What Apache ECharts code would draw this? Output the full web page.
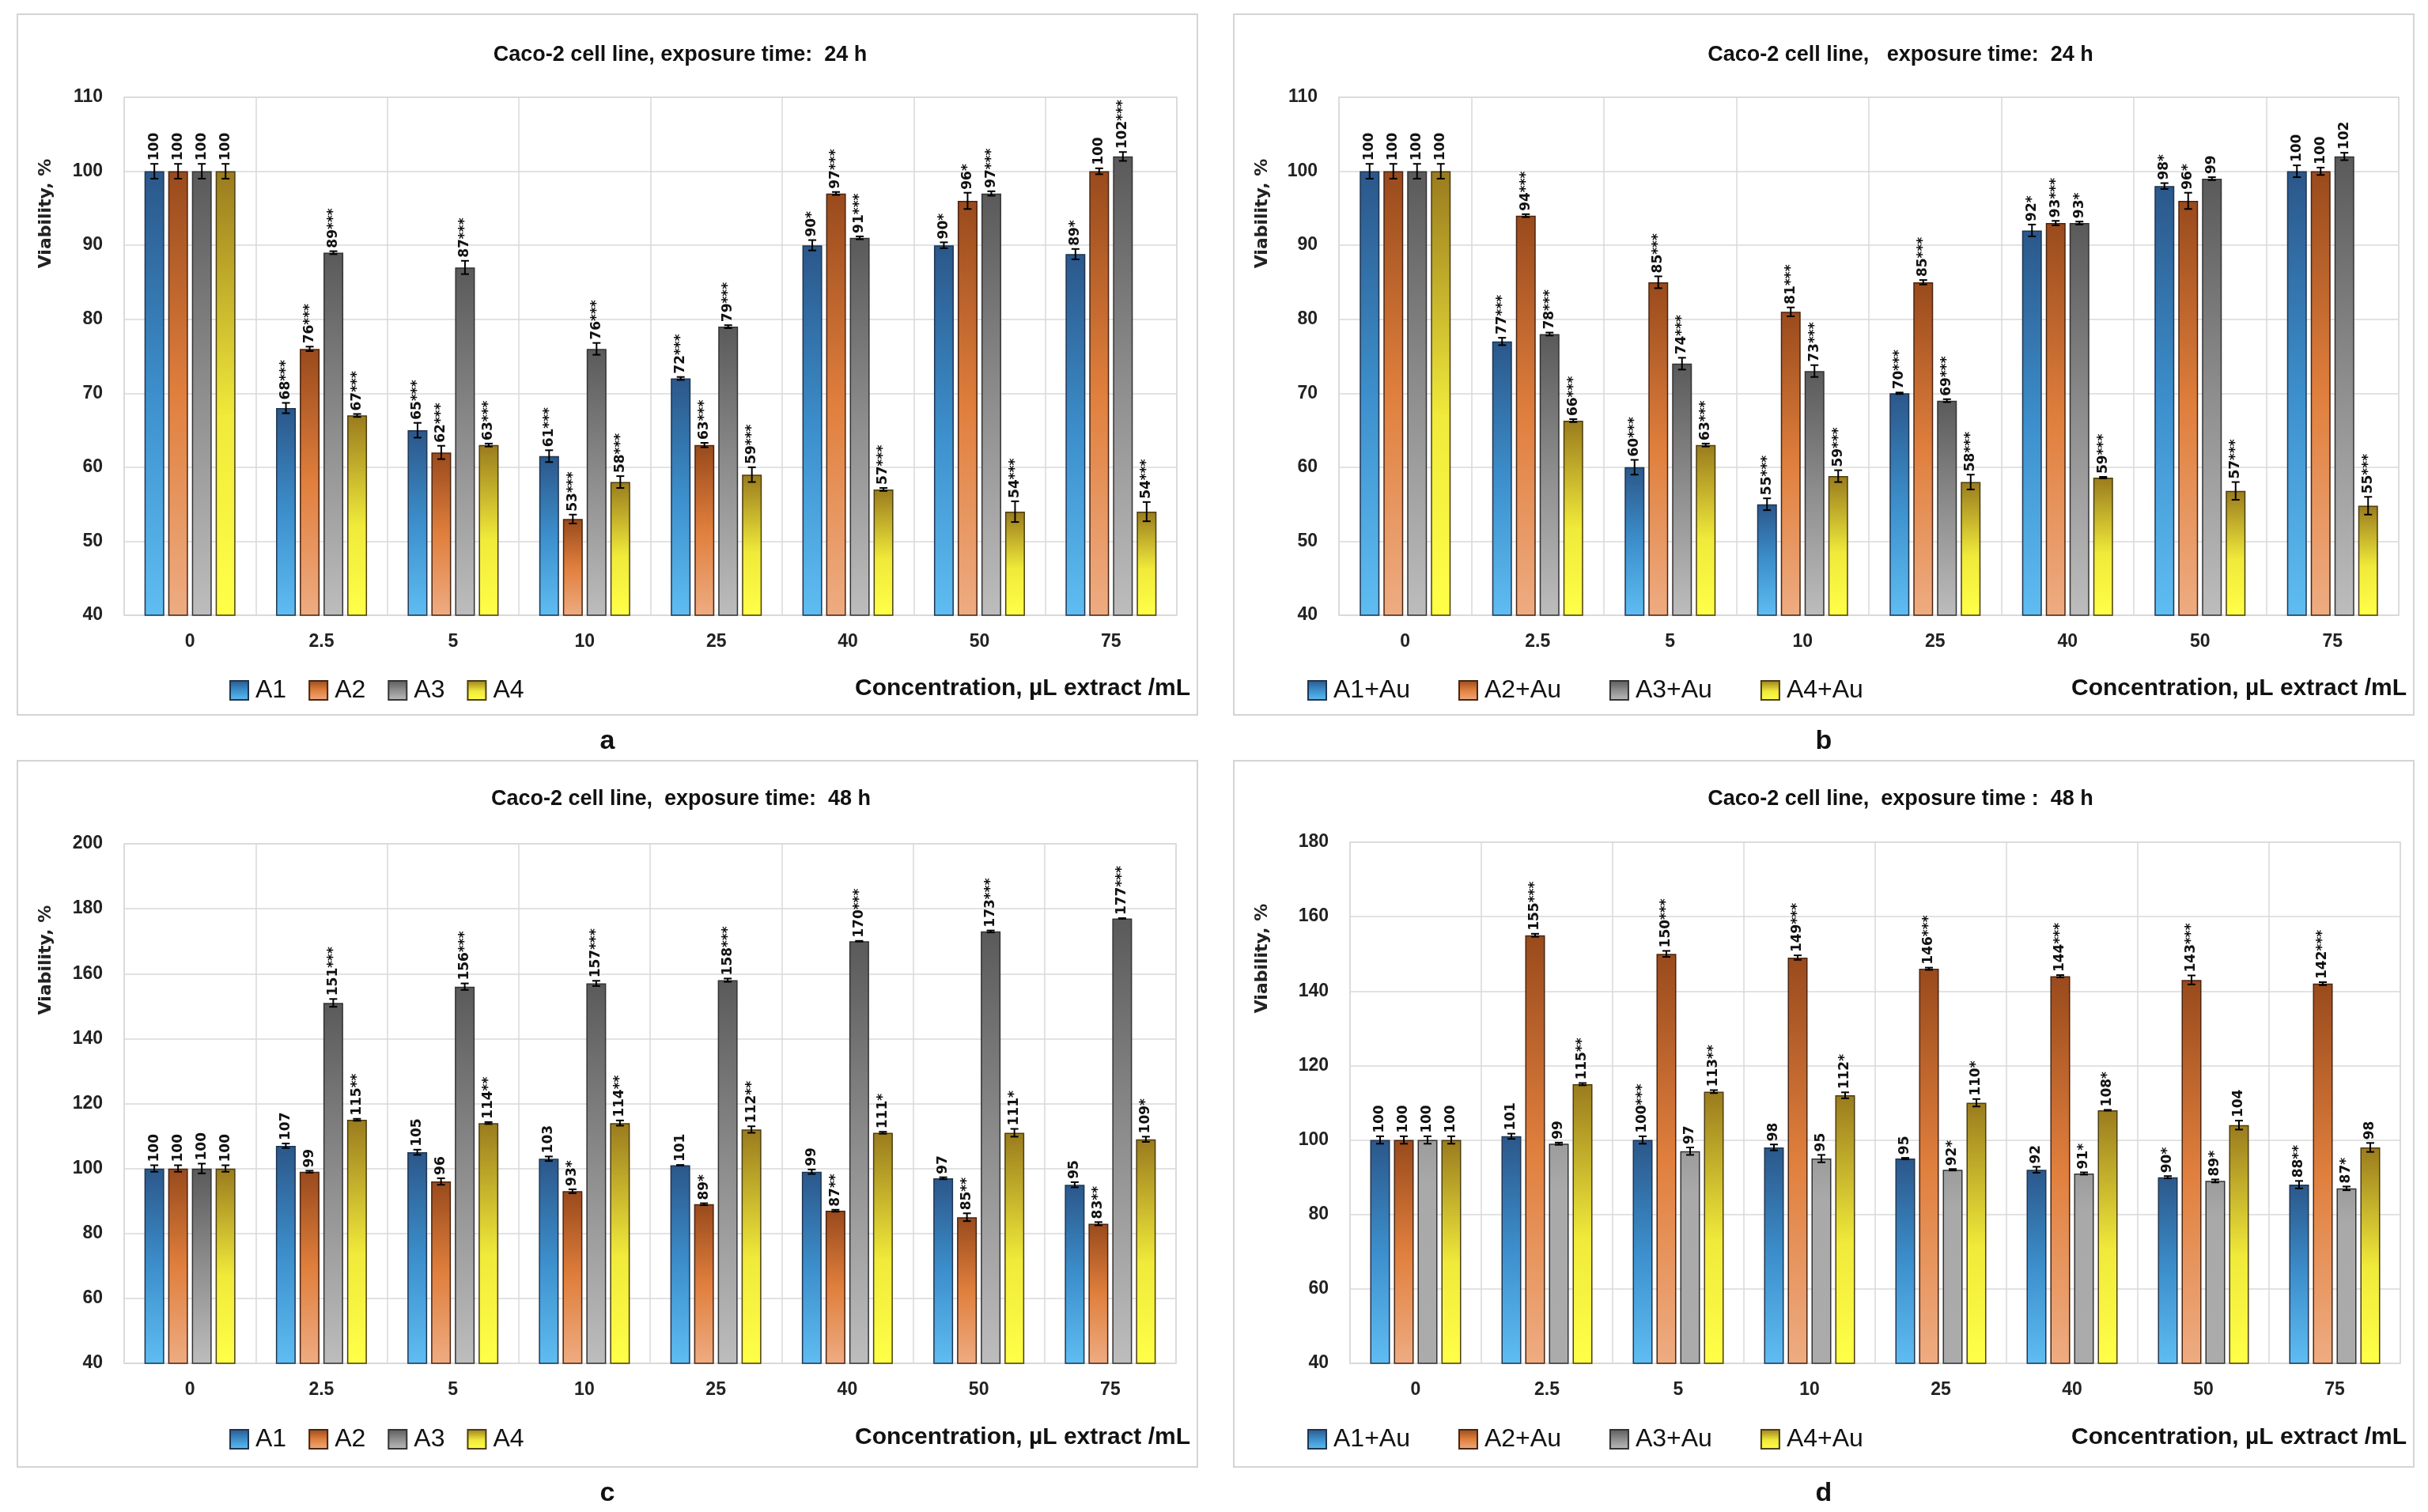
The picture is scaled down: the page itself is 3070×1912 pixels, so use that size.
<!DOCTYPE html>
<html>
<head>
<meta charset="utf-8">
<script src="https://cdn.jsdelivr.net/npm/echarts@6/dist/echarts.min.js"></script>
<style>
html,body{margin:0;padding:0;background:#fff;}
#chart{width:3070px;height:1912px;}
</style>
</head>
<body>
<div id="chart"></div>
<script>
var concentrations = ['0', '2.5', '5', '10', '25', '40', '50', '75'];
var namesPlain = ['A1', 'A2', 'A3', 'A4'];
var namesAu = ['A1+Au', 'A2+Au', 'A3+Au', 'A4+Au'];

// panel a: 24 h, extracts
var viabA = [
	[100, 68, 65, 61.5, 72, 90, 90, 88.8],
	[100, 76, 62, 53, 63, 97, 96, 100],
	[100, 89, 87, 76, 79, 91, 97, 102],
	[100, 67, 63, 58, 59, 57, 54, 54]
];
var errA = [
	[1, 0.7, 1, 0.8, 0.2, 0.7, 0.4, 0.7],
	[1, 0.3, 0.9, 0.6, 0.3, 0.2, 1.1, 0.4],
	[1, 0.2, 0.9, 0.8, 0.2, 0.2, 0.3, 0.6],
	[1, 0.2, 0.2, 0.8, 1, 0.2, 1.4, 1.3]
];
var labA = [
	['100', '68***', '65***', '61***', '72***', '90*', '90*', '89*'],
	['100', '76***', '62***', '53***', '63***', '97***', '96*', '100'],
	['100', '89***', '87***', '76***', '79***', '91***', '97***', '102***'],
	['100', '67***', '63***', '58***', '59***', '57***', '54***', '54***']
];

// panel b: 24 h, extracts + Au
var viabB = [
	[100, 77, 60, 55, 70, 92, 98, 100],
	[100, 94, 85, 81, 85, 93, 96, 100],
	[100, 78, 74, 73, 69, 93, 99, 102],
	[100, 66.3, 63, 58.8, 58, 58.6, 56.8, 54.8]
];
var errB = [
	[1, 0.5, 1, 0.8, 0.1, 0.8, 0.4, 0.8],
	[1, 0.2, 0.8, 0.6, 0.3, 0.3, 1.1, 0.5],
	[1, 0.2, 0.8, 0.8, 0.2, 0.2, 0.2, 0.5],
	[1, 0.2, 0.2, 0.8, 1, 0.1, 1.2, 1.2]
];
var labB = [
	['100', '77***', '60***', '55***', '70***', '92*', '98*', '100'],
	['100', '94***', '85***', '81***', '85***', '93***', '96*', '100'],
	['100', '78***', '74***', '73***', '69***', '93*', '99', '102'],
	['100', '66***', '63***', '59***', '58***', '59***', '57***', '55***']
];

// panel c: 48 h, extracts
var viabC = [
	[100, 107, 105, 103, 101, 99, 97, 95],
	[100, 99, 96, 93, 89, 87, 85, 83],
	[100, 151, 156, 157, 158, 170, 173, 177],
	[100, 115, 114, 114, 112, 111, 111, 109]
];
var errC = [
	[1, 0.7, 0.8, 0.7, 0.1, 0.7, 0.3, 0.8],
	[1, 0.3, 1, 0.6, 0.3, 0.3, 1.2, 0.5],
	[1.5, 1.2, 1, 0.8, 0.5, 0.1, 0.3, 0.1],
	[1, 0.3, 0.3, 0.8, 1, 0.3, 1.2, 0.8]
];
var labC = [
	['100', '107', '105', '103', '101', '99', '97', '95'],
	['100', '99', '96', '93*', '89*', '87**', '85**', '83**'],
	['100', '151***', '156***', '157***', '158***', '170***', '173***', '177***'],
	['100', '115**', '114**', '114**', '112**', '111*', '111*', '109*']
];

// panel d: 48 h, extracts + Au
var viabD = [
	[100, 101, 100, 98, 95, 92, 90, 88],
	[100, 155, 150, 149, 146, 144, 143, 142],
	[100, 99, 97, 95, 92, 91, 89, 87],
	[100, 115, 113, 112, 110, 108, 104, 98]
];
var errD = [
	[1, 0.7, 1, 0.8, 0.2, 0.8, 0.3, 1],
	[1, 0.4, 0.8, 0.6, 0.3, 0.3, 1.2, 0.4],
	[1, 0.3, 1, 1, 0.2, 0.3, 0.4, 0.5],
	[1, 0.3, 0.4, 0.8, 1, 0.1, 1.2, 1.2]
];
var labD = [
	['100', '101', '100***', '98', '95', '92', '90*', '88**'],
	['100', '155***', '150***', '149***', '146***', '144***', '143***', '142***'],
	['100', '99', '97', '95', '92*', '91*', '89*', '87*'],
	['100', '115**', '113**', '112*', '110*', '108*', '104', '98']
];

var yMinA = 40, yMaxA = 110, yStepA = 10;
var yMinC = 40, yMaxC = 200, yStepC = 20;
var yMinD = 40, yMaxD = 180, yStepD = 20;

function grad(stops) {
	return new echarts.graphic.LinearGradient(0, 0, 0, 1, stops.map(function (s) {
		return {offset: s[0], color: s[1]};
	}));
}
var fills = [
	[[0, '#2b578a'], [0.5, '#3c8fcc'], [1, '#5fbdf2']],
	[[0, '#994a1c'], [0.5, '#e07f3d'], [1, '#eeac82']],
	[[0, '#5a5a5a'], [0.5, '#8e8e8e'], [1, '#bdbdbd']],
	[[0, '#9a7b1e'], [0.55, '#f0ea3a'], [1, '#ffff48']]
];
var fillsD = [fills[0], fills[1], [[0, '#9c9c9c'], [0.2, '#a9a9a9'], [1, '#ababab']], fills[3]];
var edges = ['#1f3550', '#4a2410', '#333333', '#4a3d10'];

var panels = [
	{vals: viabA, errs: errA, labs: labA, names: namesPlain, min: yMinA, max: yMaxA, step: yStepA,
		grid: [157, 123, 1331, 655], box: [22, 18, 886], title: 'Caco-2 cell line, exposure time:  24 h', tx: 860, ty: 70,
		legendX: 285, legendY: 868, gap: 28, letter: 'a', fills: fills},
	{vals: viabB, errs: errB, labs: labB, names: namesAu, min: yMinA, max: yMaxA, step: yStepA,
		grid: [1693, 123, 1340, 655], box: [1560, 18, 886], title: 'Caco-2 cell line,   exposure time:  24 h', tx: 2403, ty: 70,
		legendX: 1648, legendY: 868, gap: 61, letter: 'b', fills: fills},
	{vals: viabC, errs: errC, labs: labC, names: namesPlain, min: yMinC, max: yMaxC, step: yStepC,
		grid: [157, 1067, 1330, 657], box: [22, 962, 893], title: 'Caco-2 cell line,  exposure time:  48 h', tx: 861, ty: 1011,
		legendX: 285, legendY: 1815, gap: 28, letter: 'c', fills: fills},
	{vals: viabD, errs: errD, labs: labD, names: namesAu, min: yMinD, max: yMaxD, step: yStepD,
		grid: [1707, 1065, 1328, 659], box: [1560, 962, 893], title: 'Caco-2 cell line,  exposure time :  48 h', tx: 2403, ty: 1011,
		legendX: 1648, legendY: 1815, gap: 61, letter: 'd', fills: fillsD}
];

var grids = [], xAxes = [], yAxes = [], series = [], legends = [], graphics = [];
var gridColor = '#d9d9d9';

panels.forEach(function (p, pi) {
	grids.push({left: p.grid[0], top: p.grid[1], width: p.grid[2], height: p.grid[3],
		show: true, borderColor: gridColor, borderWidth: 1.5, containLabel: false, outerBoundsMode: 'none'});
	xAxes.push({type: 'category', gridIndex: pi, data: concentrations,
		axisTick: {show: false},
		axisLine: {lineStyle: {color: gridColor, width: 1.5}},
		splitLine: {show: true, lineStyle: {color: gridColor, width: 1.5}},
		axisLabel: {margin: 22, fontSize: 23, fontWeight: 'bold', fontFamily: 'Liberation Sans', color: '#222'}});
	yAxes.push({type: 'value', gridIndex: pi, min: p.min, max: p.max, interval: p.step,
		axisLine: {show: false}, axisTick: {show: false},
		splitLine: {lineStyle: {color: gridColor, width: 1.5}},
		axisLabel: {margin: 27, fontSize: 23, fontWeight: 'bold', fontFamily: 'Liberation Sans', color: '#222'}});

	var errData = [];
	for (var k = 0; k < 4; k++) {
		series.push({type: 'bar', name: p.names[k], xAxisIndex: pi, yAxisIndex: pi,
			data: p.vals[k], barWidth: 25, barGap: '20%',
			itemStyle: {color: grad(p.fills[k]), borderColor: edges[k], borderWidth: 1.5},
			emphasis: {disabled: true}, animation: false});
		for (var i = 0; i < concentrations.length; i++) {
			errData.push([i, k, p.vals[k][i], p.errs[k][i]]);
		}
	}
	series.push({type: 'custom', xAxisIndex: pi, yAxisIndex: pi, clip: false, z: 10, animation: false,
		data: errData,
		renderItem: (function (labs) {
			return function (params, api) {
				var c = api.value(0), k = api.value(1), v = api.value(2), e = api.value(3);
				var x = api.coord([c, v])[0] + (k - 1.5) * 30;
				var yt = api.coord([c, v + e])[1], yb = api.coord([c, v - e])[1];
				var ls = {stroke: '#000', lineWidth: 2};
				return {type: 'group', children: [
					{type: 'line', shape: {x1: x, y1: yt, x2: x, y2: yb}, style: ls},
					{type: 'line', shape: {x1: x - 5, y1: yt, x2: x + 5, y2: yt}, style: ls},
					{type: 'line', shape: {x1: x - 5, y1: yb, x2: x + 5, y2: yb}, style: ls},
					{type: 'text', x: x, y: yt - 4, rotation: Math.PI / 2,
						style: {text: labs[k][c], fill: '#111', font: 'bold 17px "DejaVu Sans"',
							align: 'left', verticalAlign: 'middle'}}
				]};
			};
		})(p.labs)});

	legends.push({data: p.names, left: p.legendX, top: p.legendY - 16, icon: 'rect',
		itemWidth: 23, itemHeight: 24, itemGap: p.gap, selectedMode: false,
		textStyle: {fontSize: 32, lineHeight: 32, padding: [0, 0, 0, 4], fontFamily: 'Liberation Sans', color: '#111'}});

	graphics.push({type: 'rect', silent: true, z: -10,
		shape: {x: p.box[0], y: p.box[1], width: 1492, height: p.box[2]},
		style: {fill: 'none', stroke: '#d4d4d4', lineWidth: 2}});
	graphics.push({type: 'text', silent: true, x: p.tx, y: p.ty,
		style: {text: p.title, font: 'bold 27px "Liberation Sans"', fill: '#111', align: 'center', verticalAlign: 'middle'}});
	graphics.push({type: 'text', silent: true, x: p.box[0] + 36, y: p.grid[1] + 147, rotation: Math.PI / 2,
		style: {text: 'Viability, %', font: 'bold 22px "DejaVu Sans"', fill: '#222', align: 'center', verticalAlign: 'middle'}});
	graphics.push({type: 'text', silent: true, x: p.box[0] + 1483, y: p.legendY + 3,
		style: {text: 'Concentration, \u00b5L extract /mL', font: 'bold 30px "Liberation Sans"', fill: '#111', align: 'right', verticalAlign: 'middle'}});
	graphics.push({type: 'text', silent: true, x: p.box[0] + 746, y: p.box[1] + p.box[2] + 34,
		style: {text: p.letter, font: 'bold 34px "Liberation Sans"', fill: '#111', align: 'center', verticalAlign: 'middle'}});
});

var chart = echarts.init(document.getElementById('chart'));
chart.setOption({
	backgroundColor: '#fff',
	animation: false,
	grid: grids,
	xAxis: xAxes,
	yAxis: yAxes,
	legend: legends,
	series: series,
	graphic: graphics
});
</script>
</body>
</html>
